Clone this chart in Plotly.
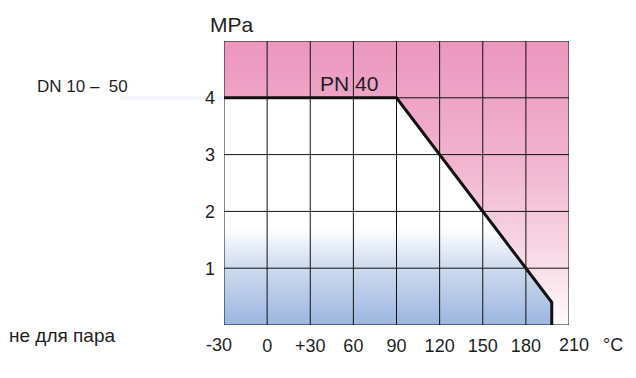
import plotly.graph_objects as go

# data
temps = [-30, 90, 198, 198]           # °C
pressure = [4, 4, 0.4, 0]             # MPa
x_ticks = [0, 30, 60, 90, 120, 150, 180]
x_ticklabels = ["0", "+30", "60", "90", "120", "150", "180"]
x_grid = [-30, 0, 30, 60, 90, 120, 150, 180, 210]
y_ticks = [1, 2, 3, 4]
y_ticklabels = ["1", "2", "3", "4"]
y_grid = [0, 1, 2, 3, 4, 5]
x_min, x_max = -30, 210
y_min, y_max = 0, 5

FONT = "Liberation Sans, Arial, sans-serif"
TXT = "#1e1e1e"

fig = go.Figure()

# pink region above the rating line
pink_x = [x_min, x_max, x_max] + temps[::-1] + [x_min]
pink_y = [y_max, y_max, y_min] + pressure[::-1] + [y_max]
fig.add_trace(go.Scatter(
    x=pink_x, y=pink_y, mode="lines", line=dict(width=0),
    fill="toself",
    fillgradient=dict(type="vertical", start=y_min, stop=y_max,
                      colorscale=[[0, "rgb(255,250,252)"], [0.2, "rgb(249,222,233)"],
                                  [0.6, "rgb(240,178,205)"], [1, "rgb(236,150,190)"]]),
    hoverinfo="skip", showlegend=False))

# region below the rating line (white -> blue)
low_x = [x_min] + temps + [x_min]
low_y = [y_min] + pressure + [y_min]
fig.add_trace(go.Scatter(
    x=low_x, y=low_y, mode="lines", line=dict(width=0),
    fill="toself",
    fillgradient=dict(type="vertical", start=y_min, stop=y_max,
                      colorscale=[[0, "rgb(156,182,224)"], [0.2, "rgb(205,218,238)"],
                                  [0.34, "rgb(255,255,255)"], [1, "rgb(255,255,255)"]]),
    hoverinfo="skip", showlegend=False))

# rating line
fig.add_trace(go.Scatter(x=temps, y=pressure, mode="lines",
                         line=dict(color="#111111", width=3),
                         hoverinfo="skip", showlegend=False))

shapes = []
for gx in x_grid:
    shapes.append(dict(type="line", xref="x", yref="y", x0=gx, x1=gx, y0=y_min, y1=y_max,
                       line=dict(color="#111111", width=1), layer="above"))
for gy in y_grid:
    shapes.append(dict(type="line", xref="x", yref="y", x0=x_min, x1=x_max, y0=gy, y1=gy,
                       line=dict(color="#111111", width=1), layer="above"))
# faint leader line from DN label
shapes.append(dict(type="line", xref="paper", yref="y", x0=-0.30, x1=0, y0=4, y1=4,
                   line=dict(color="rgba(228,232,243,0.4)", width=4), layer="below"))

annotations = [
    dict(text="MPa", xref="paper", yref="paper", x=0, y=1, xanchor="left", yanchor="bottom",
         xshift=-16, yshift=3, showarrow=False, font=dict(family=FONT, size=21, color=TXT)),
    dict(text="PN 40", xref="x", yref="y", x=57, y=4, xanchor="center", yanchor="bottom",
         yshift=1, showarrow=False, font=dict(family=FONT, size=21, color=TXT)),
    dict(text="-30", xref="x", yref="paper", x=x_min, y=0, xanchor="center", yanchor="top",
         xshift=-5, yshift=-8, showarrow=False, font=dict(family=FONT, size=18, color=TXT)),
    dict(text="210", xref="x", yref="paper", x=x_max, y=0, xanchor="center", yanchor="top",
         xshift=5, yshift=-8, showarrow=False, font=dict(family=FONT, size=18, color=TXT)),
    dict(text="°C", xref="paper", yref="paper", x=1, y=0, xanchor="left", yanchor="top",
         xshift=32, yshift=-8, showarrow=False, font=dict(family=FONT, size=18, color=TXT)),
    dict(text="DN 10 –  50", xref="paper", yref="y", x=0, y=4, xanchor="left", yanchor="bottom",
         xshift=-189, yshift=0, showarrow=False, font=dict(family=FONT, size=17, color=TXT)),
    dict(text="не для пара", xref="paper", yref="paper", x=0, y=0, xanchor="left", yanchor="middle",
         xshift=-217, yshift=-10, showarrow=False, font=dict(family=FONT, size=19, color=TXT)),
]

fig.update_layout(
    width=620, height=362,
    margin=dict(l=216, r=59, t=33, b=45),
    paper_bgcolor="white", plot_bgcolor="white",
    shapes=shapes, annotations=annotations,
    xaxis=dict(range=[x_min, x_max], tickvals=x_ticks, ticktext=x_ticklabels,
               showgrid=False, zeroline=False, showline=False, ticks="",
               ticklabelstandoff=8, tickfont=dict(family=FONT, size=18, color=TXT),
               fixedrange=True),
    yaxis=dict(range=[y_min, y_max], tickvals=y_ticks, ticktext=y_ticklabels,
               showgrid=False, zeroline=False, showline=False, ticks="",
               ticklabelstandoff=8, tickfont=dict(family=FONT, size=18, color=TXT),
               fixedrange=True),
)

fig.write_html("out.html")
